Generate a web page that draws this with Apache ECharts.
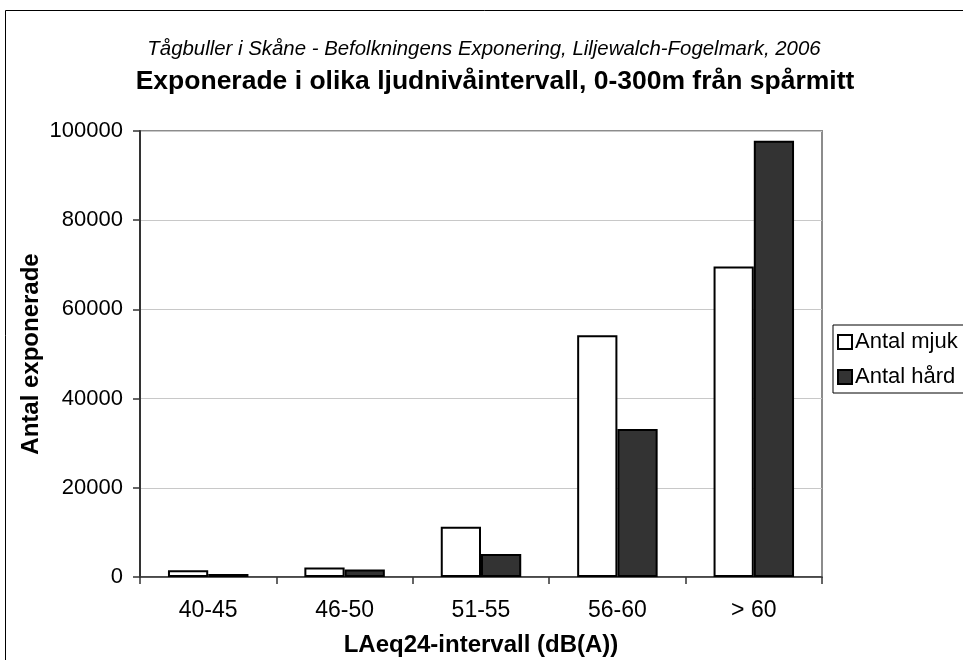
<!DOCTYPE html>
<html>
<head>
<meta charset="utf-8">
<script src="https://cdn.jsdelivr.net/npm/echarts@6/dist/echarts.min.js"></script>
<style>
html,body{margin:0;padding:0;background:#fff;}
#chart{width:963px;height:660px;}
</style>
</head>
<body>
<div id="chart"></div>
<script>
const categories = ['40-45', '46-50', '51-55', '56-60', '> 60'];
const antalMjuk = [1500, 2150, 11250, 54200, 69600];
const antalHard = [700, 1700, 5150, 33200, 97800];
const yTicks = { min: 0, max: 100000, interval: 20000 };

const FONT = '"Liberation Sans", Arial, sans-serif';
const chart = echarts.init(document.getElementById('chart'), null, { renderer: 'canvas' });
chart.setOption({
  animation: false,
  backgroundColor: '#fff',
  textStyle: { fontFamily: FONT, color: '#000' },
  title: [
    { text: 'Tågbuller i Skåne - Befolkningens Exponering, Liljewalch-Fogelmark, 2006',
      left: 479, textAlign: 'center', top: 34,
      textStyle: { fontFamily: FONT, fontStyle: 'italic', fontWeight: 'normal', fontSize: 20.4, color: '#000' } },
    { text: 'Exponerade i olika ljudnivåintervall, 0-300m från spårmitt',
      left: 490, textAlign: 'center', top: 63,
      textStyle: { fontFamily: FONT, fontWeight: 'bold', fontSize: 26.5, color: '#000' } }
  ],
  graphic: [
    { type: 'rect', z: -10, silent: true,
      shape: { x: 5.5, y: 10.5, width: 1000, height: 700 },
      style: { fill: 'none', stroke: '#000', lineWidth: 1 } }
  ],
  legend: {
    orient: 'vertical',
    left: 833, top: 325,
    padding: [6, 40, 5, 4],
    itemGap: 13,
    itemWidth: 14, itemHeight: 14,
    borderColor: '#000', borderWidth: 1,
    icon: 'rect',
    textStyle: { fontFamily: FONT, fontSize: 22, color: '#000', padding: [0, 0, 0, -2] },
    data: ['Antal mjuk', 'Antal hård']
  },
  grid: { left: 140, right: 141, top: 131, bottom: 83, show: true, borderColor: '#8c8c8c', borderWidth: 2, backgroundColor: 'transparent', containLabel: false, outerBoundsMode: 'none' },
  xAxis: {
    type: 'category',
    data: categories,
    boundaryGap: true,
    axisLine: { show: true, lineStyle: { color: '#333', width: 1.5 } },
    axisTick: { show: true, length: 7, inside: false, alignWithLabel: false, lineStyle: { color: '#333', width: 1.5 } },
    axisLabel: { fontFamily: FONT, fontSize: 23, color: '#000', margin: 22 },
    name: 'LAeq24-intervall (dB(A))',
    nameLocation: 'middle',
    nameGap: 56,
    nameMoveOverlap: false,
    nameTextStyle: { fontFamily: FONT, fontSize: 24, fontWeight: 'bold', color: '#000' }
  },
  yAxis: {
    type: 'value',
    min: yTicks.min, max: yTicks.max, interval: yTicks.interval,
    axisLine: { show: true, lineStyle: { color: '#333', width: 2 } },
    axisTick: { show: true, length: 7, lineStyle: { color: '#333', width: 1.5 } },
    splitLine: { show: true, lineStyle: { color: '#c8c8c8', width: 1 } },
    axisLabel: { fontFamily: FONT, fontSize: 22, color: '#000', margin: 17, formatter: (v) => String(v) },
    name: 'Antal exponerade',
    nameLocation: 'middle',
    nameGap: 97,
    nameMoveOverlap: false,
    nameRotate: 90,
    nameTextStyle: { fontFamily: FONT, fontSize: 24, fontWeight: 'bold', color: '#000' }
  },
  series: [
    { name: 'Antal mjuk', type: 'bar', data: antalMjuk, barGap: '0%', barCategoryGap: '41%',
      itemStyle: { color: '#ffffff', borderColor: '#000', borderWidth: 2 } },
    { name: 'Antal hård', type: 'bar', data: antalHard, barGap: '0%', barCategoryGap: '41%',
      itemStyle: { color: '#333333', borderColor: '#000', borderWidth: 2 } }
  ]
});
</script>
</body>
</html>
